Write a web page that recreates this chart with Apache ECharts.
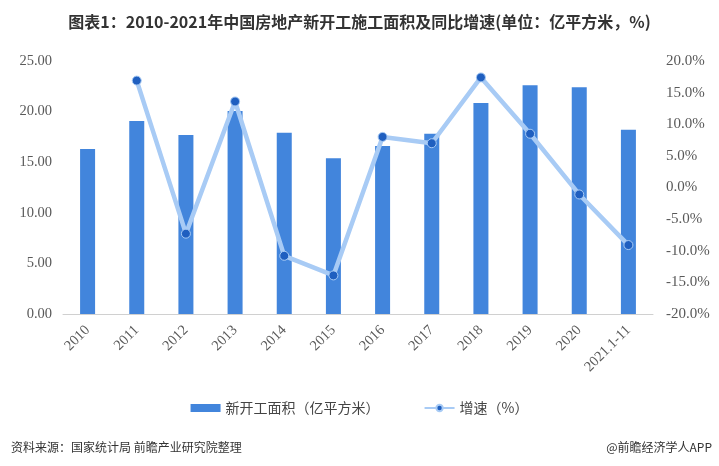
<!DOCTYPE html>
<html>
<head>
<meta charset="utf-8">
<script src="https://cdn.jsdelivr.net/npm/echarts@6/dist/echarts.min.js"></script>
<style>
  html, body { margin: 0; padding: 0; background: #fff; }
  #chart { width: 719px; height: 466px; }
</style>
</head>
<body>
<div id="chart"></div>
<script>
var years = ['2010', '2011', '2012', '2013', '2014', '2015', '2016', '2017', '2018', '2019', '2020', '2021.1-11'];
var area = [16.3, 19.07, 17.7, 20.06, 17.9, 15.4, 16.6, 17.8, 20.85, 22.6, 22.4, 18.2];
var growth = [null, 16.9, -7.3, 13.6, -10.8, -13.9, 8.0, 7.0, 17.4, 8.5, -1.1, -9.1];

var serif = '"Liberation Serif", "DejaVu Serif", serif';
var cjk = '"Noto Sans CJK SC", "Noto Sans", sans-serif';

var chart = echarts.init(document.getElementById('chart'), null, { renderer: 'canvas' });
chart.setOption({
  animation: false,
  backgroundColor: '#fff',
  title: [{
    text: '图表1：2010-2021年中国房地产新开工施工面积及同比增速(单位：亿平方米，%)',
    left: 'center',
    top: 9,
    textStyle: { fontFamily: '"Liberation Sans Narrow", ' + cjk, fontSize: 16, fontWeight: 'bold', color: '#333' }
  }, {
    text: '资料来源：国家统计局 前瞻产业研究院整理',
    left: 6,
    top: 436,
    textStyle: { fontFamily: cjk, fontSize: 12, fontWeight: 'normal', color: '#333' }
  }, {
    text: '@前瞻经济学人APP',
    right: 2,
    top: 436,
    textStyle: { fontFamily: cjk, fontSize: 12, fontWeight: 'normal', color: '#333' }
  }],
  legend: {
    top: 396,
    left: 'center',
    itemGap: 44,
    textStyle: { fontFamily: cjk, fontSize: 14, color: '#444' },
    data: [
      { name: '新开工面积（亿平方米）', icon: 'rect', itemStyle: { color: '#4285dc' } },
      { name: '增速（%）' }
    ],
    itemWidth: 30,
    itemHeight: 8
  },
  grid: { left: 63, right: 66, top: 61, bottom: 152 },
  xAxis: {
    type: 'category',
    data: years,
    axisLine: { lineStyle: { color: '#d0d0d0' } },
    axisTick: { show: false },
    axisLabel: { color: '#595959', fontFamily: serif, fontSize: 14.5, rotate: 45, interval: 0, margin: 14 }
  },
  yAxis: [{
    type: 'value',
    min: 0,
    max: 25,
    interval: 5,
    axisLine: { show: false },
    axisTick: { show: false },
    splitLine: { show: false },
    axisLabel: {
      color: '#595959', fontFamily: serif, fontSize: 14.5, margin: 11,
      formatter: function(v) { return v.toFixed(2); }
    }
  }, {
    type: 'value',
    min: -20,
    max: 20,
    interval: 5,
    axisLine: { show: false },
    axisTick: { show: false },
    splitLine: { show: false },
    axisLabel: {
      color: '#595959', fontFamily: serif, fontSize: 15, margin: 13,
      formatter: function(v) { return v.toFixed(1) + '%'; }
    }
  }],
  series: [{
    name: '新开工面积（亿平方米）',
    type: 'bar',
    data: area,
    barWidth: 15,
    itemStyle: { color: '#4285dc' }
  }, {
    name: '增速（%）',
    type: 'line',
    yAxisIndex: 1,
    data: growth,
    symbol: 'circle',
    symbolSize: 9,
    lineStyle: { color: '#a8cbf5', width: 4.5 },
    itemStyle: { color: '#1f5fc0', borderColor: '#a8cbf5', borderWidth: 1 }
  }]
});
</script>
</body>
</html>
